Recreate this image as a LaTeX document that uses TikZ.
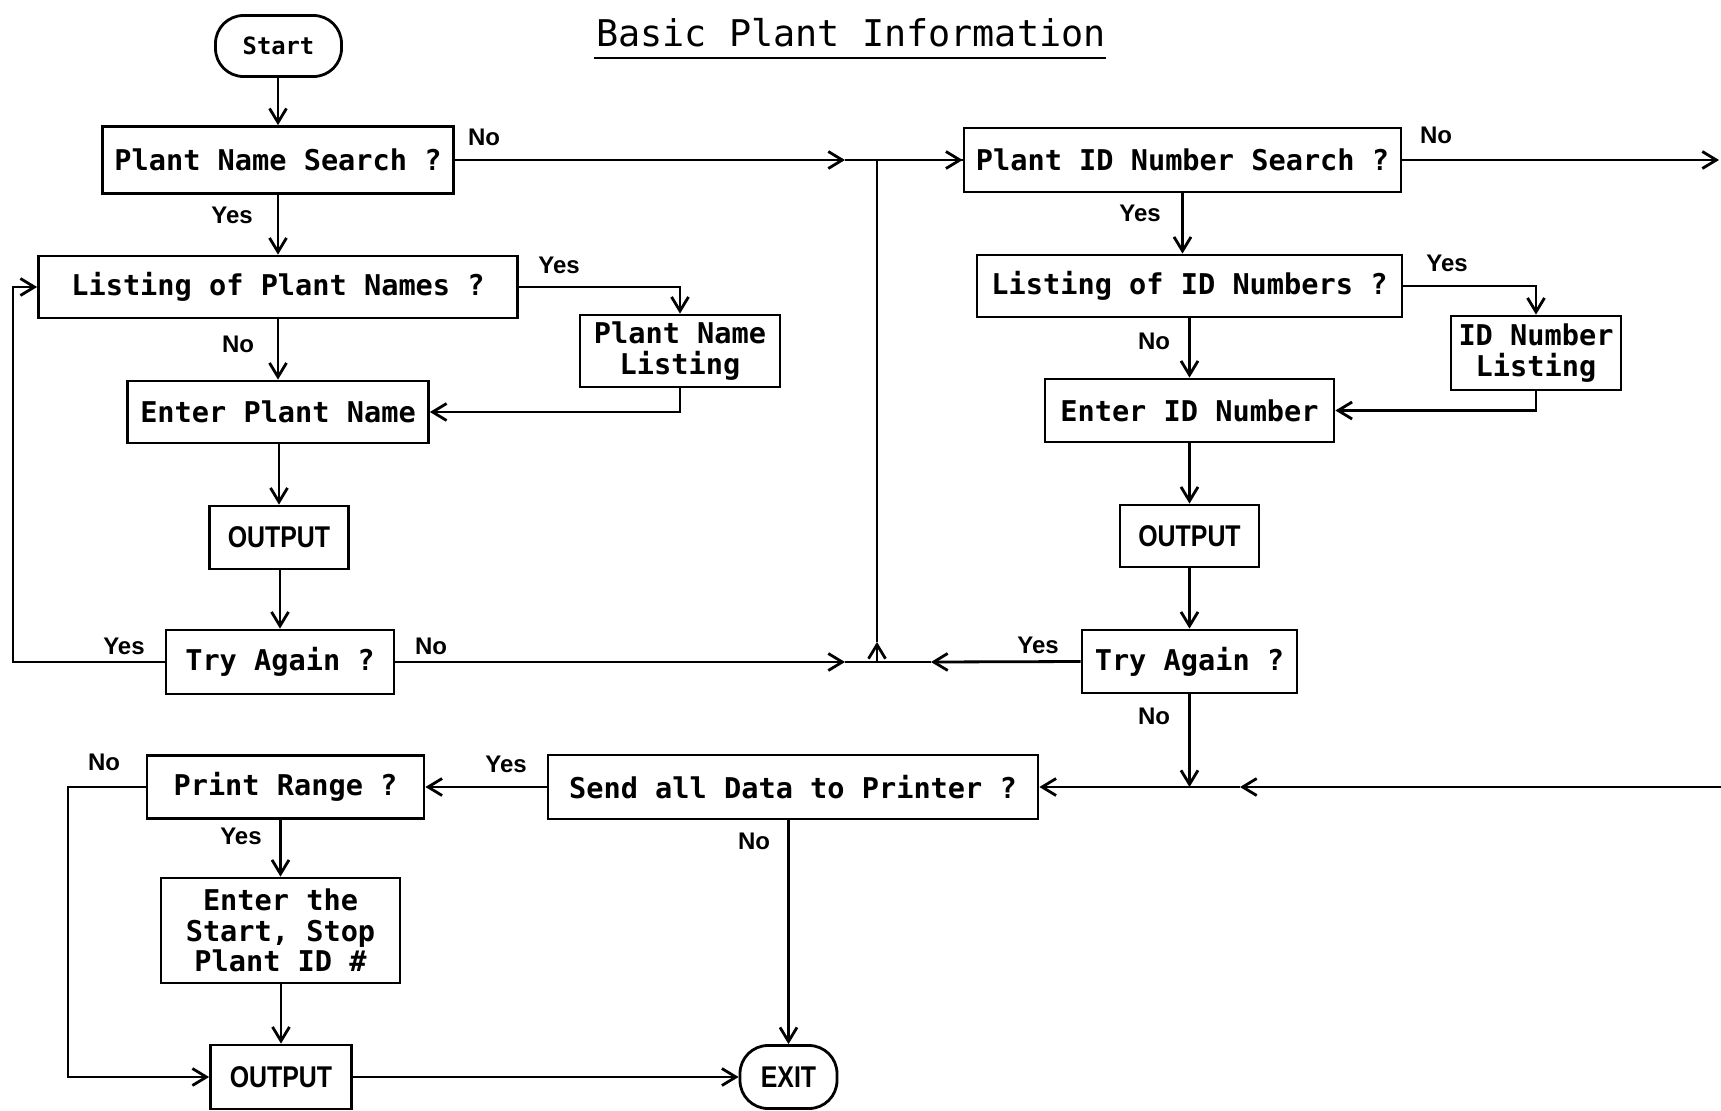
\documentclass[tikz,border=0pt]{standalone}
\usepackage{fontspec}
\usetikzlibrary{arrows.meta}
\newfontfamily\bxfont{DejaVu Sans Mono}
\newfontfamily\outfont{Liberation Sans}[FakeStretch=0.83]
\newfontfamily\lblfont{Liberation Sans}
\begin{document}
\begin{tikzpicture}[x=0.5pt,y=-0.5pt,
  line width=1.4pt,
  box/.style={draw,rectangle,inner sep=0pt,align=center,font=\bxfont\bfseries\fontsize{14.3}{15.2}\selectfont},
  term/.style={draw,rectangle,rounded corners=14pt,inner sep=0pt,align=center},
  outbox/.style={draw,rectangle,inner sep=0pt,font=\outfont\bfseries\fontsize{15}{16}\selectfont},
  lbl/.style={font=\lblfont\bfseries\fontsize{12}{13}\selectfont,inner sep=0pt},
  arr/.style={-{Straight Barb[length=7pt,width=8.5pt,line width=1.4pt]}}]
\useasboundingbox (0,0) rectangle (1721,1110);

% title
\node[font=\bxfont\fontsize{18.4}{20}\selectfont,inner sep=0pt] (title) at (851,33) {Basic Plant Information};
\draw[line width=1.2pt] (594,58) coordinate (ul1) -- (1106,58) coordinate (ul2);

% left column
\node[term,minimum width=63pt,minimum height=30.5pt,font=\bxfont\bfseries\fontsize{11.9}{13}\selectfont] (start) at (278.5,46) {Start};
\node[box,minimum width=175.5pt,minimum height=33.5pt] (pns) at (278,160) {Plant Name Search ?};
\node[box,minimum width=239.5pt,minimum height=31pt] (lpn) at (278,287) {Listing of Plant Names ?};
\node[box,minimum width=100pt,minimum height=36pt] (pnl) at (680,351) {Plant Name\\Listing};
\node[box,minimum width=150.5pt,minimum height=31pt] (epn) at (278,412) {Enter Plant Name};
\node[outbox,minimum width=69.5pt,minimum height=31.5pt] (out1) at (279,537.5) {OUTPUT};
\node[box,minimum width=114pt,minimum height=32pt] (try1) at (280,662) {Try Again ?};

% right column
\node[box,minimum width=218.5pt,minimum height=32pt] (pid) at (1182.5,160) {Plant ID Number Search ?};
\node[box,minimum width=212.5pt,minimum height=31pt] (lid) at (1189.5,286) {Listing of ID Numbers ?};
\node[box,minimum width=85pt,minimum height=37pt] (idl) at (1536,353) {ID Number\\Listing};
\node[box,minimum width=144.5pt,minimum height=31.5pt] (eid) at (1189.5,410.5) {Enter ID Number};
\node[outbox,minimum width=69.5pt,minimum height=31pt] (out2) at (1189.5,536) {OUTPUT};
\node[box,minimum width=107.5pt,minimum height=31.5pt] (try2) at (1189.5,661.5) {Try Again ?};

% bottom
\node[box,minimum width=245pt,minimum height=32pt] (send) at (793,787) {Send all Data to Printer ?};
\node[box,minimum width=138.5pt,minimum height=31.5pt] (pr) at (285.5,787) {Print Range ?};
\node[box,minimum width=119.5pt,minimum height=52.5pt] (ent) at (280.5,930.5) {Enter the\\Start, Stop\\Plant ID \#};
\node[outbox,minimum width=70.5pt,minimum height=32pt] (out3) at (281,1077) {OUTPUT};
\node[term,minimum width=48.5pt,minimum height=31.5pt,font=\outfont\bfseries\fontsize{15}{16}\selectfont] (exit) at (788.5,1077) {EXIT};

% coordinates
\coordinate (j1) at (877,160);
\coordinate (j2) at (877,662);
\coordinate (j3) at (1189.5,787);
\coordinate (m1) at (845,160);
\coordinate (m2) at (845,662);
\coordinate (m3) at (931,662);
\coordinate (m4) at (877,642);
\coordinate (m5) at (1240,787);
\coordinate (redge) at (1721,787);
\coordinate (rout) at (1719,160);
\coordinate (lx) at (13,662);
\coordinate (bx) at (68,787);

% left connectors
\draw[arr] (start.south -| pns) -- (pns.north);
\draw[arr] (pns.south -| lpn) -- (lpn.north);
\draw[arr] (lpn.east) -| (pnl.north);
\draw[arr] (lpn.south -| epn) -- (epn.north);
\draw[arr] (pnl.south) |- (epn.east);
\draw[arr] (epn.south -| out1) -- (out1.north);
\draw[arr] (out1.south -| try1) -- (try1.north);
\draw[arr] (try1.west) -- (lx) |- (lpn.west);
\draw[arr] (try1.east) -- (m2);
\draw (m2) -- (j2);
\draw[arr] (pns.east) -- (m1);
\draw (m1) -- (pid.west);
\draw[arr] (j1) -- (pid.west);
\draw[arr] (j2) -- (m4);
\draw (m4) -- (j1);

% right connectors
\draw[arr] (pid.south) -- (pid.south |- lid.north);
\draw[arr] (pid.east) -- (rout);
\draw[arr] (lid.east) -| (idl.north);
\draw[arr] (lid) -- (eid);
\draw[arr] (idl.south) |- (eid.east);
\draw[arr] (eid) -- (out2);
\draw[arr] (out2) -- (try2);
\draw[arr] (try2.west) -- (m3);
\draw (m3) -- (j2);
\draw[arr] (try2.south) -- (j3);
\draw[arr] (redge) -- (m5);
\draw (m5) -- (j3);
\draw[arr] (j3) -- (send.east);

% bottom connectors
\draw[arr] (send.west) -- (pr.east);
\draw[arr] (send.south -| exit.north) -- (exit.north);
\draw[arr] (pr.south -| ent) -- (ent.north);
\draw[arr] (ent.south -| out3) -- (out3.north);
\draw[arr] (pr.west) -- (bx) |- (out3.west);
\draw[arr] (out3) -- (exit);

% labels
\node[lbl] (l1) at (484,137) {No};
\node[lbl] (l2) at (232,215) {Yes};
\node[lbl] (l3) at (559,265) {Yes};
\node[lbl] (l4) at (238,344) {No};
\node[lbl] (l5) at (124,646) {Yes};
\node[lbl] (l6) at (431,646) {No};
\node[lbl] (l7) at (1436,135) {No};
\node[lbl] (l8) at (1140,213) {Yes};
\node[lbl] (l9) at (1447,263) {Yes};
\node[lbl] (l10) at (1154,341) {No};
\node[lbl] (l11) at (1038,645) {Yes};
\node[lbl] (l12) at (1154,716) {No};
\node[lbl] (l13) at (506,764) {Yes};
\node[lbl] (l14) at (104,762) {No};
\node[lbl] (l15) at (241,836) {Yes};
\node[lbl] (l16) at (754,841) {No};
\end{tikzpicture}
\end{document}
